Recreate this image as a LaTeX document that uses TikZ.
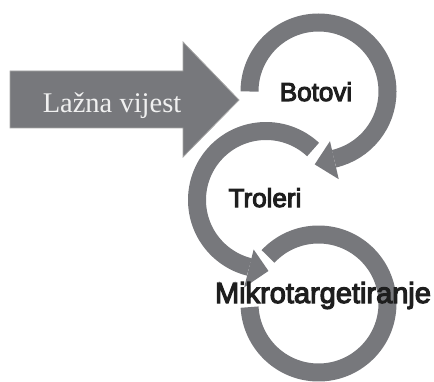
\documentclass[tikz,border=0pt]{standalone}
\usepackage{fontspec}
\newfontfamily\lblfont{Liberation Sans}[FakeBold=4]
\newfontfamily\serfont{Liberation Serif}
\definecolor{ringgray}{RGB}{119,120,124}
\definecolor{inkgray}{RGB}{30,30,30}

\begin{document}
\begin{tikzpicture}[x=1pt, y=1pt, ring/.style={ringgray, line width=18pt, line cap=butt}, tip/.style={fill=ringgray}, lbl/.style={anchor=base, inner sep=0pt, text=inkgray, font=\lblfont\fontsize{26}{30}\selectfont}]

  \useasboundingbox (0,0) rectangle (434,381);

  \node[coordinate] (cbot) at (318.5,289.5) {};
  \node[coordinate] (ctrol) at (266,181) {};
  \node[coordinate] (cmikro) at (318.5,77.5) {};

  % input arrow
  \filldraw[fill=ringgray, draw=gray!70, line width=0.8pt] (10,253) -- (10,310) -- (183,310) -- (183,339) -- (239,281) -- (183,224) -- (183,253) -- cycle;
  \node[anchor=base, inner sep=0pt, text=white!94!black, font=\serfont\fontsize{28.5}{32}\selectfont] (news) at (112,268) {Lažna vijest};

  % rings
  \draw[ring] ([shift={(180:69)}]cbot) arc[start angle=180, end angle=-77, radius=69];
  \fill[tip] ([shift={(-77:51)}]cbot) -- ([shift={(-93:73)}]cbot) -- ([shift={(-77:90)}]cbot) -- cycle;

  \draw[ring] ([shift={(47:69)}]ctrol) arc[start angle=47, end angle=256, radius=69];
  \fill[tip] ([shift={(256:51)}]ctrol) -- ([shift={(272:71)}]ctrol) -- ([shift={(256:90)}]ctrol) -- cycle;

  \draw[ring] ([shift={(137:69)}]cmikro) arc[start angle=137, end angle=-177, radius=69];

  \node[lbl] (botovi) at (316,280) {Botovi};
  \node[lbl] (troleri) at (265,174) {Troleri};
  \node[lbl, font=\lblfont\fontsize{29}{32}\selectfont] (mikro) at (323,78) {Mikrotargetiranje};
\end{tikzpicture}
\end{document}
